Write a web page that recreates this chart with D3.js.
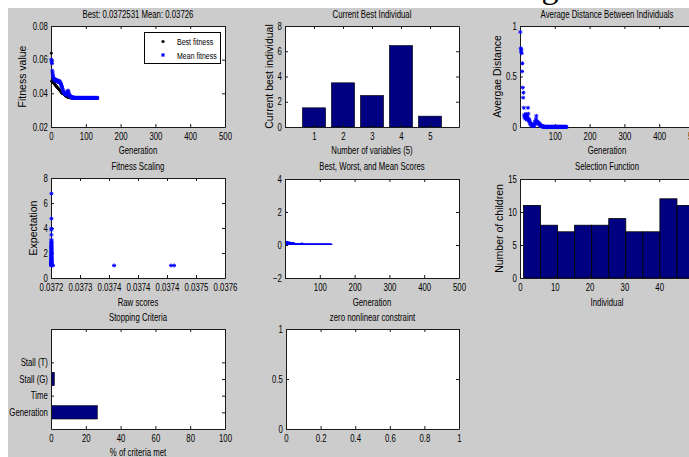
<!DOCTYPE html>
<html><head><meta charset="utf-8">
<script src="https://cdn.jsdelivr.net/npm/d3@7"></script>
<style>body{margin:0;background:#fff}svg{display:block}</style>
</head><body><svg id="c" width="689" height="457"></svg>
<script>
// ---------------- DATA ----------------
const bestFitness = [
 .0638,.0472,.0470,.0468,.0466,.0465,.0463,.0461,.0458,.0456,
 .0453,.0450,.0447,.0445,.0442,.0440,.0437,.0435,.0433,.0431,
 .0428,.0426,.0424,.0422,.0419,.0417,.0414,.0411,.0408,.0405,
 .0402,.0400,.0399,.0398,.0397,.0396,.0395,.0393,.0391,.0389,
 .0387,.0385,.0383,.0381,.0380,.0379,.0378,.0377,.0376,.0375,
 .0374,.0374,.0374,.0373,.0373,.03728,.03727,.03727,.03726,.03726,
 .03725,.03725,.03725,.03725,.03725,.03725,.03725,.03725,.03725,.03725,
 .03725,.03725,.03725,.03725,.03725,.03725,.03725,.03725,.03725,.03725,
 .03725,.03725,.03725,.03725,.03725,.03725,.03725,.03725,.03725,.03725,
 .03725,.03725,.03725,.03725,.03725,.03725,.03725,.03725,.03725,.03725,
 .03725,.03725,.03725,.03725,.03725,.03725,.03725,.03725,.03725,.03725,
 .03725,.03725,.03725,.03725,.03725,.03725,.03725,.03725,.03725,.03725,
 .03725,.03725,.03725,.03725,.03725,.03725,.03725,.03725,.03725,.03725,
 .03725,.03725,.03725];
const meanFitness = [
 .0600,.0590,.0578,.0533,.0520,.0505,.0492,.0488,.0484,.0480,
 .0478,.0483,.0476,.0474,.0480,.0473,.0471,.0476,.0470,.0474,
 .0470,.0468,.0474,.0466,.0469,.0465,.0462,.0458,.0452,.0447,
 .0440,.0433,.0426,.0419,.0413,.0409,.0405,.0402,.0400,.0398,
 .0396,.0394,.0393,.0391,.0395,.0400,.0406,.0412,.0416,.0408,
 .0398,.0392,.0388,.0385,.0382,.0380,.0379,.0378,.0377,.0376,
 .0375,.0375,.0374,.0374,.0374,.0373,.0373,.0373,.0373,.0373,
 .03726,.03726,.03726,.03726,.03726,.03726,.03726,.03726,.03726,.03726,
 .03726,.03726,.03726,.03726,.03726,.03726,.03726,.03726,.03726,.03726,
 .03726,.03726,.03726,.03726,.03726,.03726,.03726,.03726,.03726,.03726,
 .03726,.03726,.03726,.03726,.03726,.03726,.03726,.03726,.03726,.03726,
 .03726,.03726,.03726,.03726,.03726,.03726,.03726,.03726,.03726,.03726,
 .03726,.03726,.03726,.03726,.03726,.03726,.03726,.03726,.03726,.03726,
 .03726,.03726,.03726];
const worstScore = [
 2.05,.22,.15,.20,.18,.12,.20,.15,.10,.18,
 .15,.10,.17,.12,.08,.14,.10,.15,.09,.12,
 .08,.10,.13,.09,.14,.07,.09,.06,.08,.05,
 .06,.05,.04,.05,.04,.04,.05,.04,.04,.04,
 .04,.05,.04,.04,.06,.07,.09,.11,.10,.06,
 .05,.04,.04,.04,.04,.04,.038,.038,.038,.038,
 .0373,.0373,.0373,.0373,.0373,.0373,.0373,.0373,.0373,.0373,
 .0373,.0373,.0373,.0373,.0373,.0373,.0373,.0373,.0373,.0373,
 .0373,.0373,.0373,.0373,.0373,.0373,.0373,.0373,.0373,.0373,
 .0373,.0373,.0373,.0373,.0373,.0373,.0373,.0373,.0373,.0373,
 .0373,.0373,.0373,.0373,.0373,.0373,.0373,.0373,.0373,.0373,
 .0373,.0373,.0373,.0373,.0373,.0373,.0373,.0373,.0373,.0373,
 .0373,.0373,.0373,.0373,.0373,.0373,.0373,.0373,.0373,.0373,
 .0373,.0373,.0373];
const avgDistance = [
 .94,.78,.745,.77,.73,.55,.63,.39,.29,.34,
 .19,.12,.10,.09,.11,.08,.13,.10,.09,.12,
 .07,.10,.19,.13,.08,.06,.07,.05,.04,.03,
 .03,.02,.03,.02,.02,.01,.02,.01,.01,.02,
 .02,.03,.05,.04,.06,.08,.11,.06,.05,.04,
 .05,.04,.03,.04,.03,.03,.02,.02,.02,.01,
 .01,.01,.01,.005,.005,.005,.003,.003,.003,.002,
 .001,.001,.001,.001,.001,.001,.001,.001,.001,.001,
 .001,.001,.001,.001,.001,.001,.001,.001,.001,.001,
 .001,.001,.001,.001,.001,.001,.001,.001,.001,.001,
 .001,.001,.001,.001,.001,.001,.001,.001,.001,.001,
 .001,.001,.001,.001,.001,.001,.001,.001,.001,.001,
 .001,.001,.001,.001,.001,.001,.001,.001,.001,.001,
 .001,.001,.001];
const bestIndividual = [1.52, 3.5, 2.5, 6.45, 0.86];
const variableIds = [1, 2, 3, 4, 5];
const scalingRaw = [
 .037201,.037201,.037201,.037201,.037201,.037201,.037201,.037201,.037201,.037201,
 .037201,.037201,.037201,.037201,.037201,.037201,.037201,.037201,.037201,.037201,
 .037201,.037201,.037201,.037201,.037201,.037201,.037201,.037201,.037201,.037201,
 .037201,.037201,.037201,.037201,.037201,.037201,.037201,.037201,.037201,.037201,
 .037201,.037201,.037201,.037201,.037201,.037201,.0372046,.037345,.037476,.037483];
const scalingExp = [
 6.75,4.75,3.95,3.85,3.45,3.05,2.95,2.85,2.78,2.7,
 2.62,2.55,2.5,2.42,2.35,2.3,2.22,2.15,2.1,2.04,
 1.98,1.92,1.86,1.8,1.75,1.7,1.65,1.6,1.55,1.5,
 1.46,1.42,1.38,1.34,1.3,1.26,1.22,1.19,1.16,1.13,
 1.1,1.07,1.05,1.03,1.01,1.0,1.0,1.0,1.0,1.0];
const scalingTickLabels = ["0.0372","0.0373","0.0374","0.0374","0.0374","0.0375","0.0376"];
const selectionEdges = [1,5.9,10.8,15.7,20.6,25.5,30.4,35.3,40.2,45.1,50];
const selectionCounts = [11,8,7,8,8,9,7,7,12,11];
const criteriaNames = ["Generation","Time","Stall (G)","Stall (T)"];
const criteriaPct = [26.6, 0, 1.9, 0];

// ---------------- DRAW ----------------
const FONT = '"Liberation Sans", Arial, Helvetica, sans-serif';
const SX = 0.78;
const BLUE = '#0000ff', NAVY = '#000080', AX = '#1a1a1a';
const svg = d3.select('#c');
svg.append('rect').attr('width',689).attr('height',457).attr('fill','#fff');
svg.append('text').attr('x',550).attr('y',-2).attr('text-anchor','middle')
  .attr('font-family','"Liberation Serif", "Times New Roman", serif').attr('font-size',34).text('g');
svg.append('rect').attr('x',8).attr('y',8).attr('width',681).attr('height',449).attr('fill','#cccccc');

let clipN = 0;
function htext(p,x,y,s,size,anchor){
  return p.append('text').attr('transform',`translate(${x},${y}) scale(${SX},1)`)
   .attr('text-anchor',anchor||'middle').attr('font-size',size).attr('font-family',FONT).attr('fill','#000').text(s);
}
function vtext(p,x,y,s,size){
  return p.append('text').attr('transform',`translate(${x},${y}) rotate(-90)`)
   .attr('text-anchor','middle').attr('font-size',size).attr('font-family',FONT).attr('fill','#000').text(s);
}
function panel(L){
  const g = svg.append('g').attr('transform',`translate(${L.x0},${L.y0})`);
  g.append('rect').attr('width',L.w).attr('height',L.h).attr('fill','#fff');
  const id='clip'+(clipN++);
  svg.append('clipPath').attr('id',id).append('rect').attr('width',L.w).attr('height',L.h);
  const plot = g.append('g').attr('clip-path',`url(#${id})`);
  return {g,plot};
}
function styleAxis(sel){
  sel.attr('font-size',null).attr('font-family',null);
  sel.selectAll('path.domain').attr('stroke',AX);
  sel.selectAll('.tick line').attr('stroke',AX);
  sel.selectAll('text').attr('font-size',10).attr('font-family',FONT).attr('fill','#000');
}
function axes(g,x,y,w,h,xt,xf,yt,yf){
  const b = g.append('g').attr('transform',`translate(0,${h})`)
    .call(d3.axisBottom(x).tickValues(xt).tickFormat(xf).tickSizeInner(-3).tickSizeOuter(0).tickPadding(6));
  styleAxis(b); b.selectAll('text').attr('transform',`scale(${SX},1)`);
  const t = g.append('g').call(d3.axisTop(x).tickValues(xt).tickFormat('').tickSizeInner(-3).tickSizeOuter(0));
  styleAxis(t);
  const l = g.append('g').call(d3.axisLeft(y).tickValues(yt).tickFormat(yf).tickSizeInner(-3).tickSizeOuter(0).tickPadding(4));
  styleAxis(l); l.selectAll('text').attr('transform',`scale(${SX},1)`);
  const r = g.append('g').attr('transform',`translate(${w},0)`)
    .call(d3.axisRight(y).tickValues(yt).tickFormat('').tickSizeInner(-3).tickSizeOuter(0));
  styleAxis(r);
}
function star(r){
  const d=r*0.72;
  return `M${-r},0H${r}M0,${-r}V${r}M${-d},${-d}L${d},${d}M${-d},${d}L${d},${-d}`;
}
const W=174;

// ---- Panel 1: fitness ----
{
  const L={x0:51,y0:26,w:W,h:101};
  const {g}=panel(L);
  const x=d3.scaleLinear().domain([0,500]).range([0,L.w]);
  const y=d3.scaleLinear().domain([0.02,0.08]).range([L.h,0]);
  axes(g,x,y,L.w,L.h,[0,100,200,300,400,500],d3.format('d'),[0.02,0.04,0.06,0.08],d3.format('.2f'));
  g.selectAll('circle.b').data(bestFitness).join('circle').attr('class','b')
    .attr('cx',(d,i)=>x(i+1)).attr('cy',d=>y(d)).attr('r',1.4).attr('fill','#000');
  g.selectAll('path.m').data(meanFitness).join('path').attr('class','m')
    .attr('transform',(d,i)=>`translate(${x(i+1)},${y(d)})`).attr('d',star(2)).attr('stroke',BLUE).attr('stroke-width',1);
  // legend
  const lg=g.append('g');
  lg.append('rect').attr('x',93.5).attr('y',6.5).attr('width',76).attr('height',31).attr('fill','#fff').attr('stroke','#000');
  lg.append('circle').attr('cx',112).attr('cy',15.5).attr('r',1.6).attr('fill','#000');
  lg.append('path').attr('transform','translate(112,29)').attr('d',star(2)).attr('stroke',BLUE).attr('stroke-width',1);
  htext(lg,126,19,'Best fitness',9,'start');
  htext(lg,126,32.5,'Mean fitness',9,'start');
  htext(svg,L.x0+L.w/2,17.5,'Best: 0.0372531 Mean: 0.03726',10);
  htext(svg,L.x0+L.w/2,154,'Generation',10);
  vtext(svg,26,L.y0+L.h/2,'Fitness value',10.5);
}
// ---- Panel 2: current best individual ----
{
  const L={x0:285,y0:26,w:W,h:101};
  const {g,plot}=panel(L);
  const x=d3.scaleLinear().domain([0,6]).range([0,L.w]);
  const y=d3.scaleLinear().domain([0,8]).range([L.h,0]);
  plot.selectAll('rect').data(bestIndividual).join('rect')
    .attr('x',(d,i)=>x(variableIds[i]-0.4)).attr('width',x(0.8)-x(0))
    .attr('y',d=>y(d)).attr('height',d=>y(0)-y(d)).attr('fill',NAVY).attr('stroke','#000').attr('stroke-width',0.6);
  axes(g,x,y,L.w,L.h,variableIds,d3.format('d'),[0,2,4,6,8],d3.format('d'));
  htext(svg,L.x0+L.w/2,17.5,'Current Best Individual',10);
  htext(svg,L.x0+L.w/2,154,'Number of variables (5)',10);
  vtext(svg,272.5,L.y0+L.h/2,'Current best individual',10.5);
}
// ---- Panel 3: average distance ----
{
  const L={x0:520,y0:26,w:W,h:101};
  const {g}=panel(L);
  const x=d3.scaleLinear().domain([0,500]).range([0,L.w]);
  const y=d3.scaleLinear().domain([0,1]).range([L.h,0]);
  axes(g,x,y,L.w,L.h,[100,200,300,400,500],d3.format('d'),[0,0.5,1],d3.format('~g'));
  g.selectAll('path.m').data(avgDistance).join('path').attr('class','m')
    .attr('transform',(d,i)=>`translate(${x(i+1)},${y(d)})`).attr('d',star(2)).attr('stroke',BLUE).attr('stroke-width',1);
  htext(svg,L.x0+L.w/2,17.5,'Average Distance Between Individuals',10);
  htext(svg,L.x0+L.w/2,154,'Generation',10);
  vtext(svg,500.5,L.y0+L.h/2,'Avergae Distance',10.5);
}
// ---- Panel 4: fitness scaling ----
{
  const L={x0:51,y0:178,w:W,h:100};
  const {g}=panel(L);
  const x=d3.scaleLinear().domain([0.0372,0.0376]).range([0,L.w]);
  const y=d3.scaleLinear().domain([0,8]).range([L.h,0]);
  const xt=scalingTickLabels.map((s,i)=>0.0372+i*0.0004/6);
  axes(g,x,y,L.w,L.h,xt,(d,i)=>scalingTickLabels[i],[0,2,4,6,8],d3.format('d'));
  g.selectAll('path.m').data(scalingExp).join('path').attr('class','m')
    .attr('transform',(d,i)=>`translate(${x(scalingRaw[i])},${y(d)})`).attr('d',star(2)).attr('stroke',BLUE).attr('stroke-width',1);
  htext(svg,L.x0+L.w/2,169.5,'Fitness Scaling',10);
  htext(svg,L.x0+L.w/2,305.5,'Raw scores',10);
  vtext(svg,36.5,L.y0+L.h/2,'Expectation',10.5);
}
// ---- Panel 5: best, worst, mean ----
{
  const L={x0:285,y0:179,w:W,h:99};
  const {g,plot}=panel(L);
  const x=d3.scaleLinear().domain([0,500]).range([0,L.w]);
  const y=d3.scaleLinear().domain([-2,4]).range([L.h,0]);
  plot.selectAll('path.e').data(worstScore).join('path').attr('class','e')
    .attr('d',(d,i)=>{const gx=x(i+1),yb=y(bestFitness[i]),yw=y(d);
      return `M${gx},${yb}V${yw}M${gx-1},${yw}H${gx+1}M${gx-1},${yb}H${gx+1}`;})
    .attr('stroke',BLUE).attr('stroke-width',1).attr('fill','none');
  plot.append('path').datum(meanFitness)
    .attr('d',d3.line().x((d,i)=>x(i+1)).y(d=>y(d))).attr('stroke',BLUE).attr('stroke-width',1).attr('fill','none');
  axes(g,x,y,L.w,L.h,[100,200,300,400,500],d3.format('d'),[-2,0,2,4],d3.format('d'));
  htext(svg,L.x0+L.w/2,169.5,'Best, Worst, and Mean Scores',10);
  htext(svg,L.x0+L.w/2,305.5,'Generation',10);
}
// ---- Panel 6: selection function ----
{
  const L={x0:520,y0:179,w:W,h:99};
  const {g,plot}=panel(L);
  const x=d3.scaleLinear().domain([0,50]).range([0,L.w]);
  const y=d3.scaleLinear().domain([0,15]).range([L.h,0]);
  plot.selectAll('rect').data(selectionCounts).join('rect')
    .attr('x',(d,i)=>x(selectionEdges[i])).attr('width',(d,i)=>x(selectionEdges[i+1])-x(selectionEdges[i]))
    .attr('y',d=>y(d)).attr('height',d=>y(0)-y(d)).attr('fill',NAVY).attr('stroke','#000').attr('stroke-width',0.8);
  axes(g,x,y,L.w,L.h,[0,10,20,30,40,50],d3.format('d'),[0,5,10,15],d3.format('d'));
  htext(svg,L.x0+L.w/2,169.5,'Selection Function',10);
  htext(svg,L.x0+L.w/2,305.5,'Individual',10);
  vtext(svg,502.5,L.y0+L.h/2,'Number of children',10.5);
}
// ---- Panel 7: stopping criteria ----
{
  const L={x0:51,y0:329,w:W,h:100};
  const {g,plot}=panel(L);
  const x=d3.scaleLinear().domain([0,100]).range([0,L.w]);
  const y=d3.scaleLinear().domain([0,6]).range([L.h,0]);
  plot.selectAll('rect').data(criteriaPct).join('rect')
    .attr('x',x(0)).attr('width',d=>x(d)-x(0))
    .attr('y',(d,i)=>y(i+1+0.4)).attr('height',y(0)-y(0.8))
    .attr('fill',NAVY).attr('stroke','#000').attr('stroke-width',0.6)
    .attr('visibility',d=>d>0?'visible':'hidden');
  axes(g,x,y,L.w,L.h,[0,20,40,60,80,100],d3.format('d'),[1,2,3,4],(d)=>criteriaNames[d-1]);
  htext(svg,L.x0+L.w/2,320.5,'Stopping Criteria',10);
  htext(svg,L.x0+L.w/2,456,'% of criteria met',10);
}
// ---- Panel 8: zero nonlinear constraint ----
{
  const L={x0:286,y0:329,w:173,h:100};
  const {g}=panel(L);
  const x=d3.scaleLinear().domain([0,1]).range([0,L.w]);
  const y=d3.scaleLinear().domain([0,1]).range([L.h,0]);
  axes(g,x,y,L.w,L.h,[0,0.2,0.4,0.6,0.8,1],d3.format('~g'),[0,0.5,1],d3.format('~g'));
  htext(svg,L.x0+L.w/2,320.5,'zero nonlinear constraint',10);
}
</script></body></html>
